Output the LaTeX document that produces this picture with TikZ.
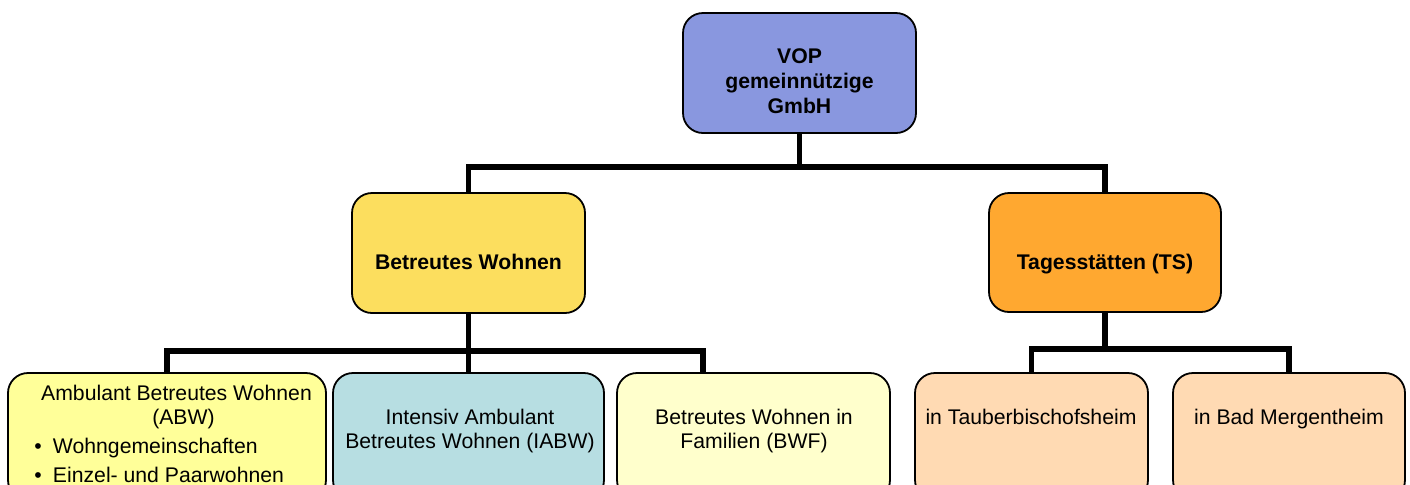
\documentclass[tikz,border=0pt]{standalone}
\usepackage{fontspec}
\setmainfont{Liberation Sans}
\definecolor{vopblue}{HTML}{8997DF}
\definecolor{bwyellow}{HTML}{FCDE5E}
\definecolor{tsorange}{HTML}{FFA830}
\definecolor{abwyellow}{HTML}{FFFF99}
\definecolor{iabwblue}{HTML}{B7DEE2}
\definecolor{bwfyellow}{HTML}{FFFFCC}
\definecolor{peach}{HTML}{FFDAB3}
\tikzset{
  box/.style={draw=black, line width=0.9pt, rounded corners=10pt, inner sep=0pt, outer sep=0pt},
  conn/.style={line width=2.8pt, line join=miter, line cap=butt},
  txt/.style={font=\fontsize{10.6}{12.5}\selectfont, inner sep=0pt, outer sep=0pt, align=center},
  btxt/.style={txt, font=\fontsize{10.6}{12.5}\selectfont\bfseries}
}
\begin{document}
\begin{tikzpicture}[x=0.5pt, y=-0.5pt]
\useasboundingbox (0,0) rectangle (1410,484);
\clip (0,0) rectangle (1410,484);
\fill[white] (0,0) rectangle (1410,484);

% boxes
\node[box, fill=vopblue, minimum width=116.5pt, minimum height=60pt] (vop) at (799.5,73) {};
\node[box, fill=bwyellow, minimum width=116.5pt, minimum height=60pt] (bw) at (468.5,253) {};
\node[box, fill=tsorange, minimum width=116pt, minimum height=59.5pt] (ts) at (1105,252.5) {};
\node[box, fill=abwyellow, minimum width=159pt, minimum height=63.5pt] (abw) at (167,436.5) {};
\node[box, fill=iabwblue, minimum width=135.5pt, minimum height=63.5pt] (iabw) at (468.5,436.5) {};
\node[box, fill=bwfyellow, minimum width=136.5pt, minimum height=63.5pt] (bwf) at (753.5,436.5) {};
\node[box, fill=peach, minimum width=116.5pt, minimum height=63.5pt] (tbb) at (1031.5,436.5) {};
\node[box, fill=peach, minimum width=116pt, minimum height=63.5pt] (bm) at (1289,436.5) {};

% junctions
\coordinate (j1) at (799.5,167);
\coordinate (j2) at (468.5,351);
\coordinate (j3) at (1105,349);
\coordinate (bwfin) at (703,373);

% connectors
\draw[conn] (vop.south) -- (j1);
\draw[conn] (bw.north) |- (j1) -| (ts.north);
\draw[conn] (bw.south) -- (iabw.north);
\draw[conn] (abw.north) |- (j2) -| (bwfin);
\draw[conn] (ts.south) -- (j3);
\draw[conn] (tbb.north) |- (j3) -| (bm.north);

% texts
\node[btxt] (tvop) at (799.5,81.5) {VOP\\gemeinnützige\\GmbH};
\node[btxt, anchor=base] (tbw) at (468.5,269) {Betreutes Wohnen};
\node[btxt, anchor=base] (tts) at (1105,269) {Tagesstätten (TS)};

\node[txt, anchor=base] (tabw1) at (176.5,400) {Ambulant Betreutes Wohnen};
\node[txt, anchor=base] (tabw2) at (183.5,424) {(ABW)};
\node[txt, anchor=base] (bul1) at (38,453) {•};
\node[txt, anchor=base west] (tabw3) at (53,453) {Wohngemeinschaften};
\node[txt, anchor=base] (bul2) at (38,482) {•};
\node[txt, anchor=base west] (tabw4) at (53,482) {Einzel- und Paarwohnen};

\node[txt, anchor=base] (tiabw1) at (470,424) {Intensiv Ambulant};
\node[txt, anchor=base] (tiabw2) at (470,448) {Betreutes Wohnen (IABW)};
\node[txt, anchor=base] (tbwf1) at (754,424) {Betreutes Wohnen in};
\node[txt, anchor=base] (tbwf2) at (754,448) {Familien (BWF)};
\node[txt, anchor=base] (ttbb) at (1031,424) {in Tauberbischofsheim};
\node[txt, anchor=base] (tbm) at (1289,424) {in Bad Mergentheim};
\end{tikzpicture}
\end{document}
